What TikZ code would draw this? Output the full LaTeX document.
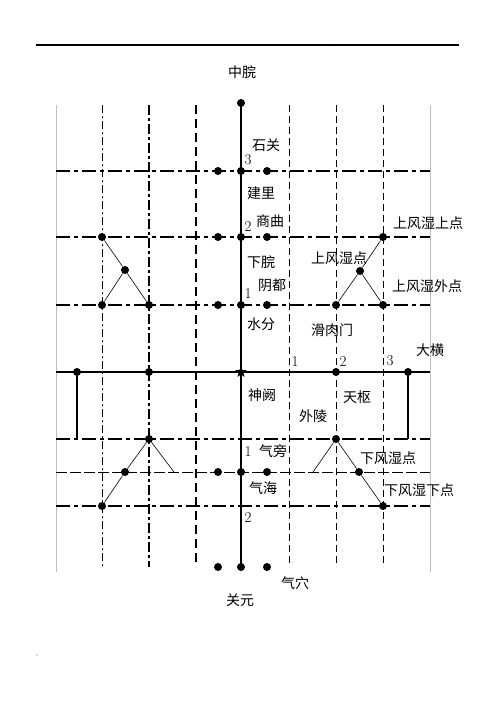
\documentclass[tikz,border=0pt]{standalone}
\usepackage{fontspec}
\newfontfamily\cjk{Noto Sans CJK SC}
\usetikzlibrary{shapes.geometric}

\tikzset{
  pt/.style={circle, fill=black, inner sep=0pt, minimum size=8pt},
  lbl/.style={font=\cjk\fontsize{14}{14}\selectfont, inner sep=0pt},
  num/.style={font=\fontsize{15}{15}\selectfont, inner sep=0pt},
  rowline/.style={line width=1.7pt, dash pattern=on 14pt off 4pt on 4pt off 4pt},
  thinrow/.style={line width=0.8pt, dash pattern=on 11pt off 3pt},
  zig/.style={line width=0.6pt}
}

\begin{document}
\begin{tikzpicture}[x=1pt, y=-1pt]
        \useasboundingbox (0,0) rectangle (496,702);
        % header rule
        \draw[line width=1.2pt] (36,45) -- (459,45);
        \node[font=\fontsize{4}{4}\selectfont, text=gray, inner sep=0pt] (dots) at (333,41) {..};
        \node[font=\fontsize{4}{4}\selectfont, text=gray, inner sep=0pt] (mark) at (37,656) {c};

        % frame and vertical lines
        \draw[gray!50, line width=0.6pt] (56,105) -- (56,572);
        \draw[gray!50, line width=0.6pt] (430,105) -- (430,572);
        \draw[line width=0.9pt, dash pattern=on 8pt off 3pt on 2pt off 3pt] (102,105) -- (102,567);
        \draw[line width=1.6pt, dash pattern=on 10pt off 3pt on 3pt off 3pt] (149,105) -- (149,567);
        \draw[line width=1.6pt, dash pattern=on 9pt off 5pt] (196,105) -- (196,567);
        \foreach \x in {289,336,383}{
            \draw[line width=0.9pt, dash pattern=on 7pt off 4pt] (\x,105) -- (\x,567);
        }
        \draw[line width=1.3pt] (241,103) -- (241,567);

        % horizontal lines
        \foreach \y in {171,237,305,439,506}{
            \draw[rowline] (56,\y) -- (430,\y);
        }
        \draw[thinrow] (56,472) -- (430,472);
        \draw[line width=2pt] (56,372) -- (430,372);

        % points
        \foreach \n/\x/\y in {zw/241/103,
            a1/218/171, a2/241/171, a3/267/171,
            b0/102/237, b1/218/237, b2/241/237, b3/267/237, b4/383/237,
            m1/125/270, m2/360/271,
            c0/102/305, c9/149/305, c1/218/305, c2/241/305, c3/267/305, c8/336/305, c4/383/305,
            d0/77/372, d9/149/372, d8/336/372, d4/408/372,
            e9/149/439, e8/336/439,
            f1/125/472, f2/218/472, f3/241/472, f4/267/472, f5/359/472,
            g0/102/506, g4/383/506,
            h1/218/567, h2/241/567, h3/267/567}{
            \node[pt] (\n) at (\x,\y) {};
        }
        \node[star, star points=5, star point ratio=2.4, fill=black, inner sep=0pt, minimum size=12pt] (sq) at (241,372) {};

        % connectors
        \coordinate (dl) at (77,439);
        \coordinate (dr) at (408,439);
        \coordinate (fl) at (174,472);
        \coordinate (fr) at (313,472);
        \draw[line width=1.6pt] (d0) -- (dl);
        \draw[line width=1.6pt] (d4) -- (dr);
        \draw[zig] (b0) -- (m1) -- (c9);
        \draw[zig] (m1) -- (c0);
        \draw[zig] (b4) -- (m2) -- (c8);
        \draw[zig] (m2) -- (c4);
        \draw[zig] (g0) -- (f1) -- (e9) -- (fl);
        \draw[zig] (fr) -- (e8) -- (f5) -- (g4);

        % labels
        \foreach \n/\x/\y/\t in {t1/242/72/中脘, t2/266/145/石关, t3/261/193/建里, t4/270/221/商曲,
            t5/428/223/上风湿上点, t6/261/262/下脘, t7/339/258/上风湿点, t8/272/285/阴都,
            t9/427/286/上风湿外点, t10/261/324/水分, t11/332/330/滑肉门, t12/430/350/大横,
            t13/262/395/神阙, t14/357/397/天枢, t15/313/416/外陵, t16/273/451/气旁,
            t17/388/458/下风湿点, t18/263/488/气海, t19/419/490/下风湿下点,
            t20/240/600/关元, t21/295/583/气穴}{
            \node[lbl] (\n) at (\x,\y) {\t};
        }
        \foreach \n/\x/\y/\t in {n1/248/160/3, n2/248/227/2, n3/248/294/1,
            n4/295/362/1, n5/343/362/2, n6/390/361/3, n7/248/452/1, n8/248/518/2}{
            \node[num] (\n) at (\x,\y) {\t};
        }
    \end{tikzpicture}
\end{document}
